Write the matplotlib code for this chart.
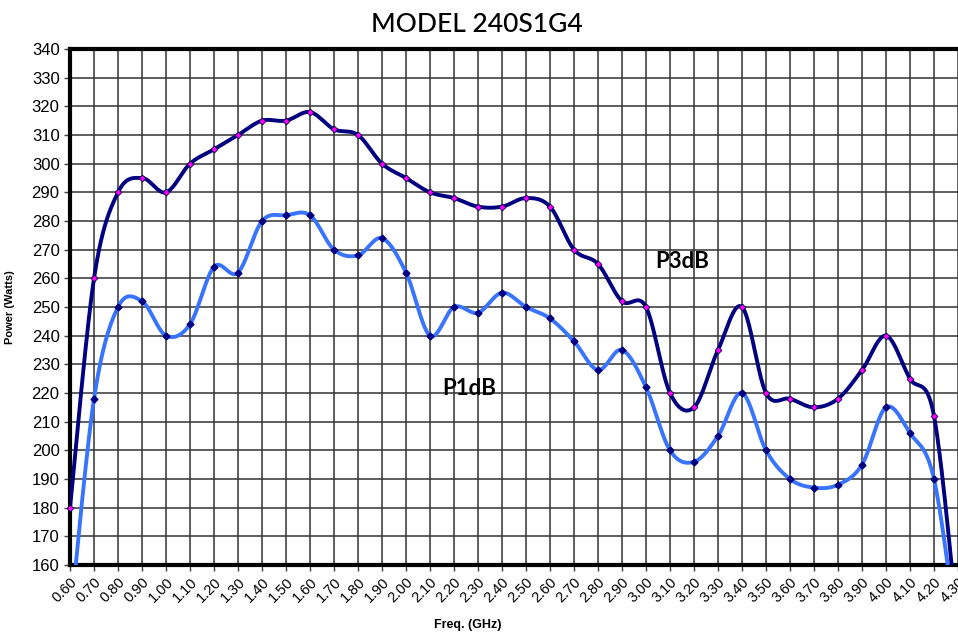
import numpy as np
import matplotlib
matplotlib.use("Agg")
import matplotlib.pyplot as plt

# frequency points (GHz)
freq = [0.60, 0.70, 0.80, 0.90, 1.00, 1.10, 1.20, 1.30, 1.40, 1.50,
        1.60, 1.70, 1.80, 1.90, 2.00, 2.10, 2.20, 2.30, 2.40, 2.50,
        2.60, 2.70, 2.80, 2.90, 3.00, 3.10, 3.20, 3.30, 3.40, 3.50,
        3.60, 3.70, 3.80, 3.90, 4.00, 4.10, 4.20, 4.30]

p3db = [180, 260, 290, 295, 290, 300, 305, 310, 315, 315,
        318, 312, 310, 300, 295, 290, 288, 285, 285, 288,
        285, 270, 265, 252, 250, 220, 215, 235, 250, 220,
        218, 215, 218, 228, 240, 225, 212, 138]

p1db = [140, 218, 250, 252, 240, 244, 264, 262, 280, 282,
        282, 270, 268, 274, 262, 240, 250, 248, 255, 250,
        246, 238, 228, 235, 222, 200, 196, 205, 220, 200,
        190, 187, 188, 195, 215, 206, 190, 133]

x_ticks = [f"{v:.2f}" for v in freq]
y_ticks = list(range(160, 341, 10))

Y_MIN, Y_MAX = 160, 340


def smooth(x, y, n=24):
    # catmull-rom style curve like the spreadsheet "smoothed line"
    x = np.asarray(x, float)
    y = np.asarray(y, float)
    px = np.concatenate([[x[0]], x, [x[-1]]])
    py = np.concatenate([[y[0]], y, [y[-1]]])
    xs, ys = [], []
    t = np.linspace(0, 1, n, endpoint=False)
    for i in range(1, len(px) - 2):
        x0, x1, x2, x3 = px[i - 1:i + 3]
        y0, y1, y2, y3 = py[i - 1:i + 3]
        cx1, cy1 = x1 + (x2 - x0) / 6, y1 + (y2 - y0) / 6
        cx2, cy2 = x2 - (x3 - x1) / 6, y2 - (y3 - y1) / 6
        b0 = (1 - t) ** 3
        b1 = 3 * (1 - t) ** 2 * t
        b2 = 3 * (1 - t) * t ** 2
        b3 = t ** 3
        xs.append(b0 * x1 + b1 * cx1 + b2 * cx2 + b3 * x2)
        ys.append(b0 * y1 + b1 * cy1 + b2 * cy2 + b3 * y2)
    xs.append([x[-1]])
    ys.append([y[-1]])
    return np.concatenate(xs), np.concatenate(ys)


def visible(x, y):
    x = np.asarray(x, float)
    y = np.asarray(y, float)
    keep = (y >= Y_MIN) & (y <= Y_MAX)
    return x[keep], y[keep]


fig = plt.figure(figsize=(9.58, 6.33), dpi=100)
ax = fig.add_axes([0.0731, 0.1074, 0.9269, 0.8152])

sx, sy = smooth(freq, p3db)
ax.plot(sx, sy, color="#000080", lw=2.8, zorder=3, solid_capstyle="round")
mx, my = visible(freq, p3db)
ax.plot(mx, my, ls="none", marker="D", ms=3.5, mfc="#FF00FF",
        mec="#000040", mew=0.6, zorder=4, clip_on=False)

sx, sy = smooth(freq, p1db)
ax.plot(sx, sy, color="#3874FF", lw=2.8, zorder=3, solid_capstyle="round")
mx, my = visible(freq, p1db)
ax.plot(mx, my, ls="none", marker="D", ms=3.5, mfc="#000080",
        mec="#000080", zorder=4, clip_on=False)

ax.set_xlim(0.60, 4.30)
ax.set_ylim(Y_MIN, Y_MAX)
ax.set_xticks(freq)
ax.set_xticklabels(x_ticks, rotation=45, ha="right", rotation_mode="anchor",
                   fontsize=10.5, family="Liberation Sans")
ax.set_yticks(y_ticks)
ax.set_yticklabels([str(v) for v in y_ticks], fontsize=12,
                   family="Liberation Sans")
ax.tick_params(axis="both", length=4, width=1, color="#404040")
ax.tick_params(axis="x", pad=3)
ax.grid(True, color="#333333", lw=1.1)
ax.set_axisbelow(True)

for side in ["left", "bottom", "top"]:
    ax.spines[side].set_linewidth(3)
    ax.spines[side].set_color("black")
ax.spines["right"].set_visible(False)

ax.set_ylabel("Power (Watts)", fontsize=8, fontweight="bold",
              family="Liberation Sans")
ax.yaxis.set_label_coords(-0.062, 0.5)
ax.set_xlabel("Freq. (GHz)", fontsize=9, fontweight="bold",
              family="Liberation Sans")
ax.xaxis.set_label_coords(0.448, -0.104)
fig.text(0.498, 0.962, "MODEL 240S1G4", ha="center", va="center",
         fontsize=19, family="Lato", fontweight="medium")

ax.text(3.04, 266, "P3dB", fontsize=16, fontweight="bold",
        family="Lato", va="center", ha="left")
ax.text(2.15, 221.5, "P1dB", fontsize=16, fontweight="bold",
        family="Lato", va="center", ha="left")

fig.savefig("out.png", dpi=100)
